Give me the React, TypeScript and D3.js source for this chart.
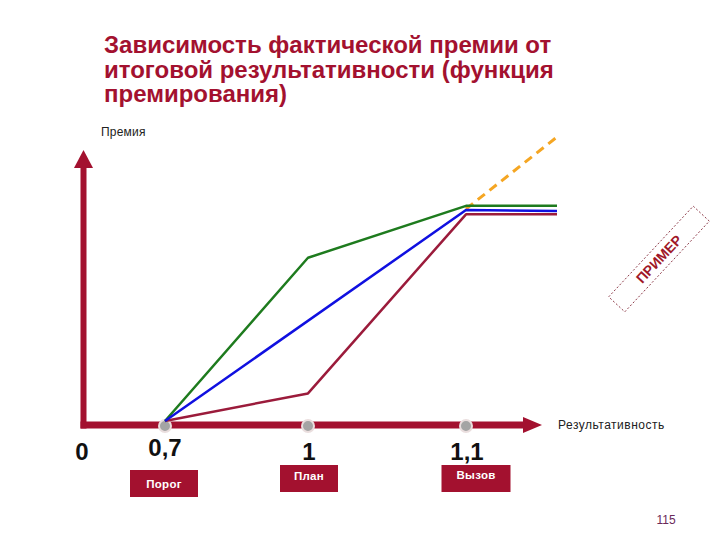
import React, { useEffect, useRef } from 'react';
import * as d3 from 'd3';

// Bonus function chart: premium vs. final performance

const titleLines = [
  'Зависимость фактической премии от',
  'итоговой результативности (функция',
  'премирования)',
];

const xTicks = [0, 0.7, 1, 1.1];
const xTickLabels = ['0', '0,7', '1', '1,1'];
const markerTicks = [0.7, 1, 1.1];
const markerLabels = ['Порог', 'План', 'Вызов'];

const greenX = [0.7, 1, 1.1, 1.2];
const greenY = [0, 77, 101.5, 101.5];
const blueX = [0.7, 1.1, 1.2];
const blueY = [0, 99.5, 99];
const redX = [0.7, 1, 1.1, 1.2];
const redY = [0, 13, 97.5, 97.5];
const dashX = [1.1, 1.2];
const dashY = [100, 134];

const RED = '#A3112F';

const App = () => {
  const svgRef = useRef<SVGSVGElement>(null);

  useEffect(() => {
    const svg = d3.select(svgRef.current);
    svg.selectAll('*').remove();

    // schematic axis: spacing between ticks is not proportional
    const xScale = d3.scaleLinear()
      .domain([0, 0.7, 1, 1.1, 1.2])
      .range([83, 165, 308, 466, 557]);
    const yScale = d3.scaleLinear().domain([0, 100]).range([421, 209]);

    const font = 'Arial, "Liberation Sans", sans-serif';

    // title
    svg.append('g')
      .selectAll('text')
      .data(titleLines)
      .enter()
      .append('text')
      .attr('x', 104)
      .attr('y', (_, i) => 53 + i * 24.5)
      .attr('font-family', font)
      .attr('font-weight', 'bold')
      .attr('font-size', 24)
      .attr('fill', RED)
      .text(d => d);

    svg.append('text')
      .attr('x', 101)
      .attr('y', 136)
      .attr('font-family', font)
      .attr('font-size', 12)
      .attr('letter-spacing', 0.2)
      .attr('fill', '#222')
      .text('Премия');

    // axes
    const axisY = 425;
    const axisX = 83.5;
    svg.append('line')
      .attr('x1', axisX).attr('y1', axisY + 3.5)
      .attr('x2', axisX).attr('y2', 166)
      .attr('stroke', RED).attr('stroke-width', 6);
    svg.append('path')
      .attr('d', `M${axisX - 9.5},168 L${axisX},150 L${axisX + 9.5},168 Z`)
      .attr('fill', RED);
    svg.append('line')
      .attr('x1', axisX - 3).attr('y1', axisY)
      .attr('x2', 525).attr('y2', axisY)
      .attr('stroke', RED).attr('stroke-width', 7);
    svg.append('path')
      .attr('d', `M523,${axisY - 8} L542,${axisY} L523,${axisY + 8} Z`)
      .attr('fill', RED);

    svg.append('text')
      .attr('x', 558)
      .attr('y', 429)
      .attr('font-family', font)
      .attr('font-size', 12)
      .attr('letter-spacing', 0.5)
      .attr('fill', '#222')
      .text('Результативность');

    // lines
    const line = d3.line<[number, number]>()
      .x(d => xScale(d[0]))
      .y(d => yScale(d[1]));

    const series = [
      { xs: dashX, ys: dashY, color: '#F5A623', dash: '9,6', w: 3 },
      { xs: redX, ys: redY, color: '#9B1B3B', dash: null, w: 2.5 },
      { xs: greenX, ys: greenY, color: '#1E7B1E', dash: null, w: 2.5 },
      { xs: blueX, ys: blueY, color: '#1010E0', dash: null, w: 2.5 },
    ];

    // markers on the axis
    svg.append('g')
      .selectAll('circle')
      .data(markerTicks)
      .enter()
      .append('circle')
      .attr('cx', d => xScale(d))
      .attr('cy', axisY + 1)
      .attr('r', 6)
      .attr('fill', '#a4a4a4')
      .attr('stroke', '#eadede')
      .attr('stroke-width', 2);

    series.forEach(s => {
      const pts = s.xs.map((x, i) => [x, s.ys[i]] as [number, number]);
      svg.append('path')
        .attr('d', line(pts))
        .attr('fill', 'none')
        .attr('stroke', s.color)
        .attr('stroke-width', s.w)
        .attr('stroke-dasharray', s.dash)
        .attr('stroke-linejoin', 'round');
    });

    // tick labels
    const labelY = [460, 456, 460, 460];
    const labelDx = [-1, 0, 1, 1];
    svg.append('g')
      .selectAll('text')
      .data(xTicks)
      .enter()
      .append('text')
      .attr('x', (d, i) => xScale(d) + labelDx[i])
      .attr('y', (_, i) => labelY[i])
      .attr('text-anchor', 'middle')
      .attr('font-family', font)
      .attr('font-weight', 'bold')
      .attr('font-size', 24)
      .attr('fill', '#111')
      .text((_, i) => xTickLabels[i]);

    // marker boxes
    const boxTop = [470, 465, 465];
    const boxW = [68, 58, 69];
    const boxDx = [-1, 1, 10];
    const textDy = [17.5, 14.5, 13.5];
    const boxes = svg.append('g')
      .selectAll('g')
      .data(markerTicks)
      .enter()
      .append('g')
      .attr('transform', (d, i) => `translate(${xScale(d) + boxDx[i]},${boxTop[i]})`);
    boxes.append('rect')
      .attr('x', (_, i) => -boxW[i] / 2)
      .attr('y', 0)
      .attr('width', (_, i) => boxW[i])
      .attr('height', 27)
      .attr('fill', RED);
    boxes.append('text')
      .attr('x', 0)
      .attr('y', (_, i) => textDy[i])
      .attr('text-anchor', 'middle')
      .attr('font-family', font)
      .attr('font-weight', 'bold')
      .attr('font-size', 11.5)
      .attr('letter-spacing', 0.3)
      .attr('fill', '#fff')
      .text((_, i) => markerLabels[i]);

    // "example" stamp
    const stamp = svg.append('g')
      .attr('transform', 'translate(659,259) rotate(-47)');
    stamp.append('rect')
      .attr('x', -62).attr('y', -11)
      .attr('width', 124).attr('height', 22)
      .attr('fill', 'none')
      .attr('stroke', '#7a1a2a')
      .attr('stroke-width', 0.8)
      .attr('stroke-dasharray', '2,2');
    stamp.append('text')
      .attr('x', 0)
      .attr('y', 5)
      .attr('text-anchor', 'middle')
      .attr('font-family', font)
      .attr('font-weight', 'bold')
      .attr('font-size', 14)
      .attr('fill', '#A01828')
      .text('ПРИМЕР');

    svg.append('text')
      .attr('x', 666)
      .attr('y', 524)
      .attr('text-anchor', 'middle')
      .attr('font-family', font)
      .attr('font-size', 12)
      .attr('fill', '#6a2a5a')
      .text('115');
  }, []);

  return (
    <svg
      ref={svgRef}
      width="720"
      height="540"
      style={{ position: 'absolute', left: 0, top: 0, background: '#fff' }}
    />
  );
};

export default App;
